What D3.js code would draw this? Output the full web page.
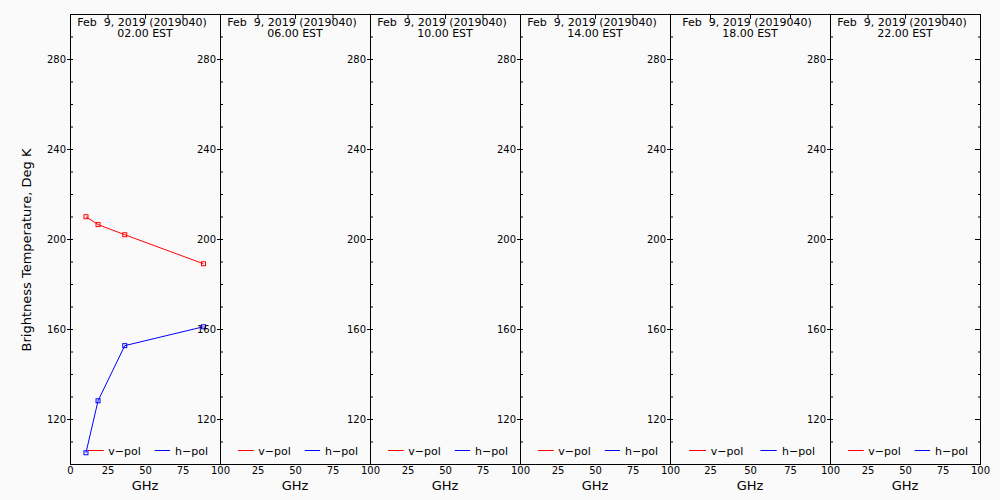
<!DOCTYPE html>
<html>
<head>
<meta charset="utf-8">
<script src="https://cdn.jsdelivr.net/npm/d3@7"></script>
<style>
  body { margin: 0; background: #fafafa; }
  svg { display: block; }
  text { font-family: "DejaVu Sans", sans-serif; fill: #000; }
</style>
</head>
<body>
<script>
// data
var dateLabel = 'Feb  9, 2019 (2019040)',
    hours     = ['02.00', '06.00', '10.00', '14.00', '18.00', '22.00'],
    freqs     = [10.65, 18.7, 36.5, 89.0],
    vpol      = [209.9, 206.4, 201.9, 189.0],
    hpol      = [105.0, 128.1, 152.6, 161.0],
    // only first panel has observations
    panelHasData = [true, false, false, false, false, false],
    xTicks    = [0, 25, 50, 75, 100],
    yMajor    = [120, 160, 200, 240, 280],
    yMinor    = d3.range(100, 301, 10);

// layout
var width    = 1000,
    height   = 500,
    plotTop  = 14,
    plotBot  = 464,
    edges    = [70, 220, 370, 520, 670, 830, 980];

var svg = d3.select('body').append('svg')
    .attr('width', width)
    .attr('height', height);

svg.append('rect')
    .attr('width', width)
    .attr('height', height)
    .attr('fill', '#fafafa');

// shared y scale
var yScale = d3.scaleLinear().domain([100, 300]).range([plotBot, plotTop]);

hours.forEach(function(h, i) {
    var x0 = edges[i], x1 = edges[i + 1];
    var xScale = d3.scaleLinear().domain([0, 100]).range([x0, x1]);
    var g = svg.append('g');

    // frame
    g.append('rect')
        .attr('x', x0 + 0.5).attr('y', plotTop + 0.5)
        .attr('width', x1 - x0).attr('height', plotBot - plotTop)
        .attr('fill', 'none').attr('stroke', '#000').attr('stroke-width', 1);

    // left axis: labels + major ticks outside
    var left = g.append('g')
        .attr('transform', 'translate(' + x0 + ',0)')
        .call(d3.axisLeft(yScale).tickValues(yMajor).tickSize(3).tickPadding(1).tickFormat(d3.format('d')));
    // minor ticks inside
    var leftIn = g.append('g')
        .attr('transform', 'translate(' + x0 + ',0)')
        .call(d3.axisRight(yScale).tickValues(yMinor).tickSize(3).tickFormat(''));

    // top ticks pointing down
    var topAx = g.append('g')
        .attr('transform', 'translate(0,' + plotTop + ')')
        .call(d3.axisBottom(xScale).tickValues([25, 50, 75]).tickSize(5).tickFormat(''));

    // bottom labels
    var bot = g.append('g')
        .attr('transform', 'translate(0,' + plotBot + ')')
        .call(d3.axisBottom(xScale).tickValues(i === 0 ? xTicks : xTicks.slice(1)).tickSize(0).tickPadding(3));

    [left, leftIn, topAx, bot].forEach(function(a) {
        a.select('.domain').remove();
        a.selectAll('line').attr('stroke', '#000');
        a.selectAll('text').attr('font-size', 10).attr('fill', '#000')
            .attr('font-family', '"DejaVu Sans", sans-serif');
    });

    // last panel right axis ticks pointing in
    if (i === hours.length - 1) {
        var right = g.append('g')
            .attr('transform', 'translate(' + x1 + ',0)')
            .call(d3.axisLeft(yScale).tickValues(yMinor).tickSize(2).tickFormat(''));
        right.select('.domain').remove();
        right.selectAll('line').attr('stroke', '#000');
        right.selectAll('.tick')
            .filter(function(d) { return yMajor.indexOf(d) >= 0; })
            .select('line').attr('x2', -5);
    }

    // titles
    g.append('text')
        .attr('x', (x0 + x1) / 2 - 3).attr('y', 26)
        .attr('text-anchor', 'middle')
        .attr('font-size', 11)
        .style('white-space', 'pre')
        .text(dateLabel);
    g.append('text')
        .attr('x', (x0 + x1) / 2).attr('y', 37)
        .attr('text-anchor', 'middle')
        .attr('font-size', 11)
        .text(h + ' EST');

    // x label
    g.append('text')
        .attr('x', (x0 + x1) / 2).attr('y', 490)
        .attr('text-anchor', 'middle')
        .attr('font-size', 13)
        .text('GHz');

    // legend
    var ly = 450.5;
    g.append('line')
        .attr('x1', xScale(12)).attr('x2', xScale(22.5))
        .attr('y1', ly).attr('y2', ly)
        .attr('stroke', '#ff0000');
    g.append('text')
        .attr('x', xScale(25.5)).attr('y', ly + 4)
        .attr('font-size', 11)
        .text('v\u2212pol');
    g.append('line')
        .attr('x1', xScale(56.5)).attr('x2', xScale(66.7))
        .attr('y1', ly).attr('y2', ly)
        .attr('stroke', '#0000ff');
    g.append('text')
        .attr('x', xScale(70)).attr('y', ly + 4)
        .attr('font-size', 11)
        .text('h\u2212pol');

    // series
    if (panelHasData[i]) {
        var series = [
            { vals: vpol, color: '#ff0000' },
            { vals: hpol, color: '#0000ff' }
        ];
        var line = d3.line()
            .x(function(d) { return xScale(d[0]); })
            .y(function(d) { return yScale(d[1]); });
        series.forEach(function(s) {
            var pts = freqs.map(function(f, k) { return [f, s.vals[k]]; });
            g.append('path')
                .attr('d', line(pts))
                .attr('fill', 'none')
                .attr('stroke', s.color)
                .attr('stroke-width', 1);
            g.selectAll(null).data(pts).enter()
                .append('rect')
                .attr('x', function(d) { return xScale(d[0]) - 2; })
                .attr('y', function(d) { return yScale(d[1]) - 2; })
                .attr('width', 4).attr('height', 4)
                .attr('fill', 'none')
                .attr('stroke', s.color);
        });
    }
});

// y title
svg.append('text')
    .attr('transform', 'translate(31,250) rotate(-90)')
    .attr('text-anchor', 'middle')
    .attr('font-size', 13)
    .text('Brightness Temperature, Deg K');
</script>
</body>
</html>
